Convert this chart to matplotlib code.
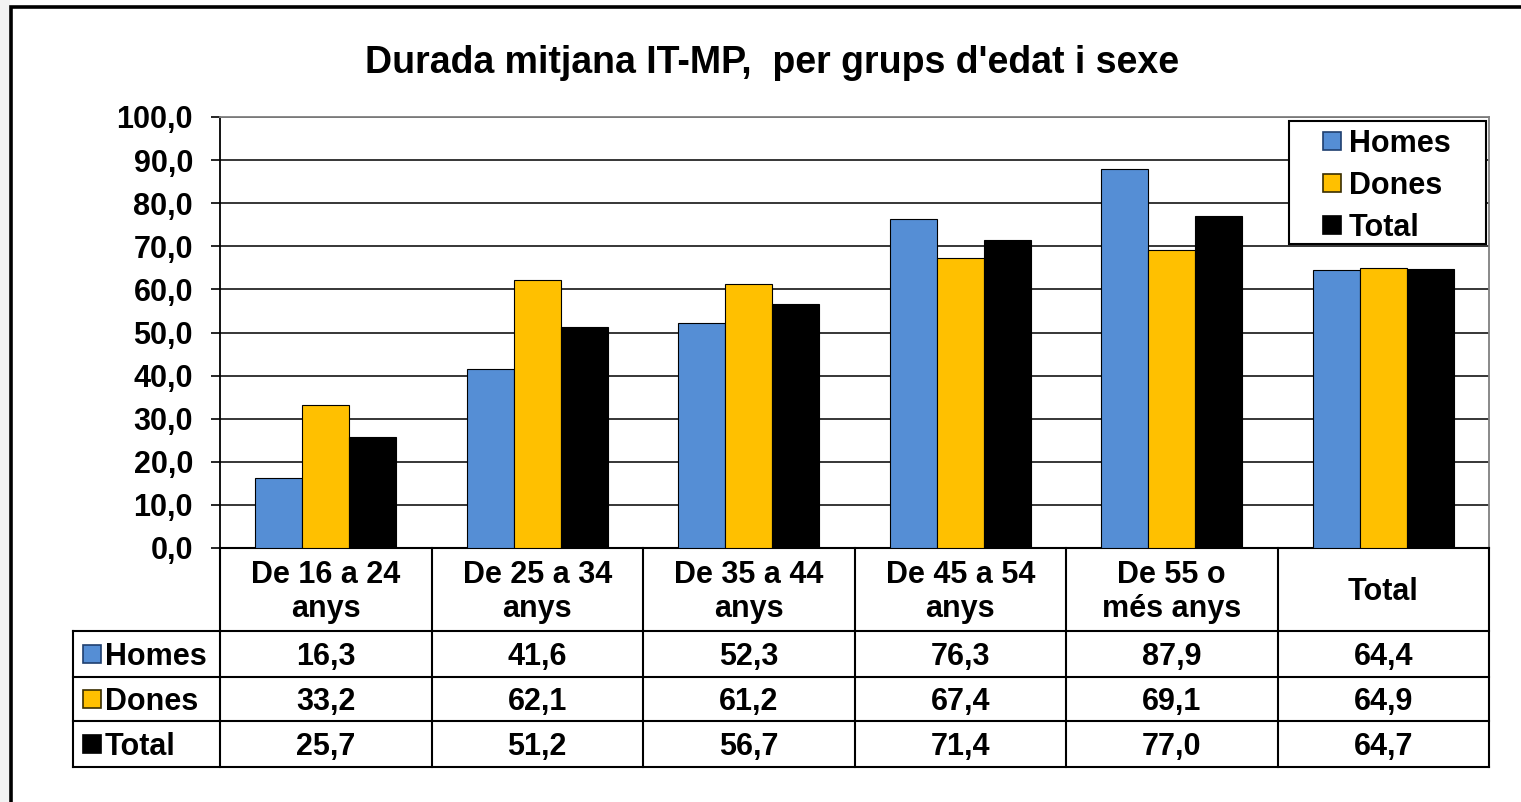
import matplotlib
matplotlib.use("Agg")
import matplotlib.pyplot as plt
import numpy as np
from matplotlib.patches import Rectangle
from matplotlib.lines import Line2D
from matplotlib.transforms import blended_transform_factory

plt.rcParams['font.family'] = ['Liberation Sans', 'DejaVu Sans']
plt.rcParams['font.weight'] = 'bold'

title = "Durada mitjana IT-MP,  per grups d'edat i sexe"
categories = ["De 16 a 24\nanys", "De 25 a 34\nanys", "De 35 a 44\nanys",
              "De 45 a 54\nanys", "De 55 o\nmés anys", "Total"]
series_names = ["Homes", "Dones", "Total"]
homes = [16.3, 41.6, 52.3, 76.3, 87.9, 64.4]
dones = [33.2, 62.1, 61.2, 67.4, 69.1, 64.9]
total = [25.7, 51.2, 56.7, 71.4, 77.0, 64.7]
series_values = [homes, dones, total]
colors = ["#558ED5", "#FFC000", "#000000"]
edge_colors = ["#1F3F6F", "#3A2E00", "#000000"]
yticks = [0, 10, 20, 30, 40, 50, 60, 70, 80, 90, 100]

W, H = 1521, 802
def fx(x): return x / W
def fy(y): return 1 - y / H

fig = plt.figure(figsize=(W / 100, H / 100), dpi=100)
fig.patch.set_facecolor("white")

# outer chart frame
fig.add_artist(Rectangle((0, 0), fx(10), 1, transform=fig.transFigure,
                         facecolor="#f2f2f2", edgecolor="none", zorder=0))
fig.add_artist(Rectangle((fx(11), fy(830)), fx(1560) - fx(11), fy(7) - fy(830),
                         transform=fig.transFigure, facecolor="none",
                         edgecolor="black", linewidth=2.6, clip_on=False))

FS = 22
ax = fig.add_axes([fx(220), fy(548), fx(1489) - fx(220), fy(117) - fy(548)])
n = len(categories)
x = np.arange(n)
bw = 0.223
for k, (vals, c) in enumerate(zip(series_values, colors)):
    ax.bar(x + (k - 1) * bw, vals, width=bw, color=c, edgecolor="black",
           linewidth=0.8, label=series_names[k], zorder=3)

ax.set_xlim(-0.5, n - 0.5)
ax.set_ylim(0, 100)
ax.set_yticks(yticks)
ax.set_yticklabels([f"{v:.1f}".replace(".", ",") for v in yticks], fontsize=FS,
                   fontweight="bold")
ax.tick_params(axis="y", length=6.5, width=1.2, pad=13, direction="out")
ax.set_xticks([])
ax.grid(axis="y", color="black", linewidth=1.1, zorder=0)
ax.set_axisbelow(True)
ax.spines["left"].set_linewidth(1.3)
ax.spines["bottom"].set_linewidth(1.5)
ax.spines["top"].set_color("#808080")
ax.spines["right"].set_color("#808080")
ax.spines["top"].set_linewidth(1.3)
ax.spines["right"].set_linewidth(1.3)

# legend (drawn as a boxed key)
fig.add_artist(Rectangle((fx(1289), fy(244)), fx(1486) - fx(1289), fy(121) - fy(244),
                         transform=fig.transFigure, facecolor="white",
                         edgecolor="black", linewidth=1.5, zorder=5))
for k, name in enumerate(series_names):
    yc = 141 + 42 * k
    fig.add_artist(Rectangle((fx(1323), fy(yc + 9)), fx(18), fy(0) - fy(18),
                             transform=fig.transFigure, facecolor=colors[k],
                             edgecolor=edge_colors[k], linewidth=1.2, zorder=6))
    fig.text(fx(1349), fy(yc + 3), name, ha="left", va="center", fontsize=FS,
             fontweight="bold", zorder=6)

# data table
trans = blended_transform_factory(ax.transData, fig.transFigure)
lw = 1.5
row_tops = [548, 631, 677, 721, 767]
for y in row_tops[1:]:
    fig.add_artist(Line2D([fx(73), fx(1489)], [fy(y), fy(y)], transform=fig.transFigure,
                          color="black", linewidth=lw))
for b in np.arange(n + 1) - 0.5:
    fig.add_artist(Line2D([b, b], [fy(548), fy(767)], transform=trans,
                          color="black", linewidth=lw))
fig.add_artist(Line2D([fx(73), fx(73)], [fy(631), fy(767)], transform=fig.transFigure,
                      color="black", linewidth=lw))

for i, lab in enumerate(categories):
    fig.text(i, fy(592), lab, transform=trans, ha="center", va="center",
             fontsize=FS, fontweight="bold", linespacing=1.18)

for r, (name, vals) in enumerate(zip(series_names, series_values)):
    yc = (row_tops[r + 1] + row_tops[r + 2]) / 2
    fig.add_artist(Rectangle((fx(83), fy(yc + 9)), fx(18), fy(0) - fy(18),
                             transform=fig.transFigure, facecolor=colors[r],
                             edgecolor=edge_colors[r], linewidth=1.2))
    fig.text(fx(105), fy(yc + 3), name, ha="left", va="center", fontsize=FS,
             fontweight="bold")
    for i, v in enumerate(vals):
        fig.text(i, fy(yc + 3), f"{v:.1f}".replace(".", ","), transform=trans,
                 ha="center", va="center", fontsize=FS, fontweight="bold")

fig.text(fx(772), fy(63), title, ha="center", va="center", fontsize=27,
         fontweight="bold")

fig.savefig("out.png", dpi=100)
